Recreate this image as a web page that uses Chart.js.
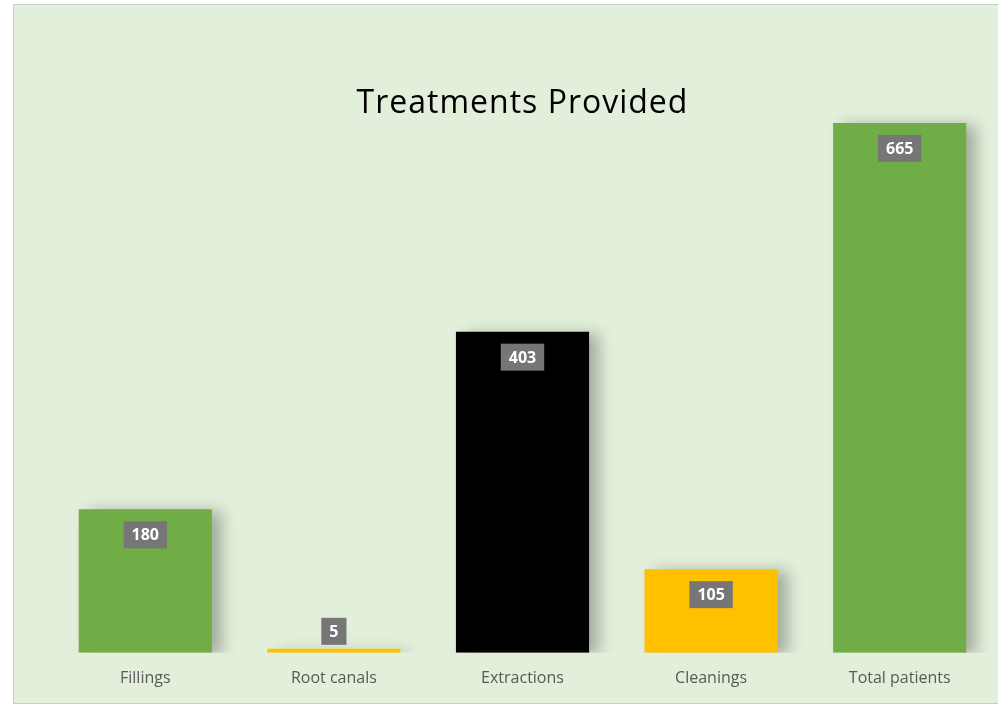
<!DOCTYPE html>
<html>
<head>
<meta charset="utf-8">
<script src="https://cdn.jsdelivr.net/npm/chart.js@4.4.1/dist/chart.umd.min.js"></script>
<style>
  html, body { margin: 0; padding: 0; background: #ffffff; overflow: hidden; }
  #frame {
    position: absolute; left: 13px; top: 4px; width: 1000px; height: 698px;
    background: #e2efda; border: 1px solid #c9cfc6;
  }
  #holder { position: absolute; left: 0; top: 0; width: 998px; height: 704px; }
</style>
</head>
<body>
<div id="frame"></div>
<div id="holder"><canvas id="treatmentsChart"></canvas></div>
<script>
// Categorías y valores del gráfico
const categories = ["Fillings", "Root canals", "Extractions", "Cleanings", "Total patients"];
const treatmentCounts = [180, 5, 403, 105, 665];
const barColors = ["#70ad47", "#ffc000", "#000000", "#ffc000", "#70ad47"];
const chartTitle = "Treatments Provided";

// Sombra suave detrás de las barras
const barShadow = {
  id: "barShadow",
  beforeDatasetsDraw(chart) {
    const ctx = chart.ctx;
    ctx.save();
    ctx.shadowColor = "rgba(0, 0, 0, 0.28)";
    ctx.shadowBlur = 14;
    ctx.shadowOffsetX = 10;
    ctx.shadowOffsetY = 2;
  },
  afterDatasetsDraw(chart) {
    chart.ctx.restore();
  }
};

// Etiquetas de valor en cajas grises + título
const valueBoxes = {
  id: "valueBoxes",
  afterDatasetsDraw(chart) {
    const ctx = chart.ctx;
    const meta = chart.getDatasetMeta(0);
    ctx.save();
    ctx.font = "bold 16px 'Open Sans', sans-serif";
    ctx.textAlign = "center";
    ctx.textBaseline = "middle";
    meta.data.forEach((bar, i) => {
      const txt = String(treatmentCounts[i]);
      const w = ctx.measureText(txt).width + 16;
      const h = 27;
      const barH = bar.base - bar.y;
      let top = bar.y + 12;
      if (barH < h + 20) top = bar.y - 4 - h;
      ctx.fillStyle = "#767676";
      ctx.fillRect(bar.x - w / 2, top, w, h);
      ctx.fillStyle = "#ffffff";
      ctx.fillText(txt, bar.x, top + h / 2 + 1);
    });
    ctx.font = "32px 'Open Sans', sans-serif";
    ctx.letterSpacing = "1px";
    ctx.fillStyle = "#000000";
    ctx.fillText(chartTitle, (chart.chartArea.left + chart.chartArea.right) / 2, 104);
    ctx.restore();
  }
};

const ctx = document.getElementById("treatmentsChart").getContext("2d");
const treatmentsChart = new Chart(ctx, {
  type: "bar",
  data: {
    labels: categories,
    datasets: [
      {
        label: chartTitle,
        data: treatmentCounts,
        backgroundColor: barColors,
        borderWidth: 0,
        barPercentage: 0.706,
        categoryPercentage: 1.0,
      },
    ],
  },
  options: {
    responsive: true,
    maintainAspectRatio: false,
    animation: false,
    layout: { padding: { left: 51, right: 4, top: 95, bottom: 0 } },
    plugins: {
      legend: { display: false },
      title: { display: false },
      tooltip: { enabled: false },
    },
    scales: {
      x: {
        grid: { display: false, drawTicks: false },
        border: { display: false },
        ticks: {
          padding: 16,
          color: "#595959",
          font: { family: "'Open Sans', sans-serif", size: 16 },
        },
      },
      y: {
        display: false,
        min: 0,
        max: 700,
      },
    },
  },
  plugins: [barShadow, valueBoxes],
});
</script>
</body>
</html>
